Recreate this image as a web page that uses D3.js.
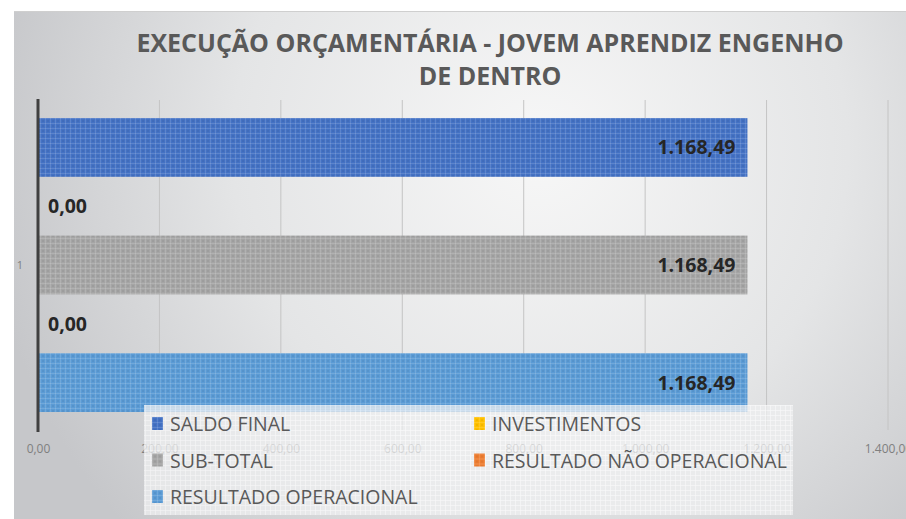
<!DOCTYPE html>
<html>
<head>
<meta charset="utf-8">
<script src="https://cdn.jsdelivr.net/npm/d3@7"></script>
<style>
  body { margin: 0; background: #fff; }
  svg { display: block; font-family: "Open Sans", sans-serif; }
</style>
</head>
<body>
<div class="visHolder"></div>
<script>
// chart data
var categories = ["1"]
var seriesNames = ["SALDO FINAL", "INVESTIMENTOS", "SUB-TOTAL", "RESULTADO NÃO OPERACIONAL", "RESULTADO OPERACIONAL"]
var seriesValues = [1168.49, 0, 1168.49, 0, 1168.49]
var seriesColors = ["#4472c4", "#ffc000", "#a5a5a5", "#ed7d31", "#5b9bd5"]
var xTicks = [0, 200, 400, 600, 800, 1000, 1200, 1400]
var titleLines = ["EXECUÇÃO ORÇAMENTÁRIA - JOVEM APRENDIZ ENGENHO", "DE DENTRO"]

var W = 906, H = 519

var svg = d3.select(".visHolder")
    .append("svg")
    .attr("width", W)
    .attr("height", H)

var defs = svg.append("defs")

// background gradient of the chart area
var bg = defs.append("radialGradient")
    .attr("id", "bg")
    .attr("gradientUnits", "userSpaceOnUse")
    .attr("cx", 540).attr("cy", 150).attr("r", 560)
bg.append("stop").attr("offset", "0%").attr("stop-color", "#f7f7f7")
bg.append("stop").attr("offset", "55%").attr("stop-color", "#e4e5e6")
bg.append("stop").attr("offset", "100%").attr("stop-color", "#c6c7ca")

// small checker texture for bars
seriesColors.forEach((c, i) => {
    var p = defs.append("pattern")
        .attr("id", "pat" + i)
        .attr("patternUnits", "userSpaceOnUse")
        .attr("width", 5).attr("height", 5)
    p.append("rect").attr("width", 5).attr("height", 5).attr("fill", c)
    p.append("rect").attr("width", 5).attr("height", 1).attr("fill", "#fff").attr("opacity", 0.13)
    p.append("rect").attr("width", 1).attr("height", 5).attr("fill", "#fff").attr("opacity", 0.13)
    p.append("rect").attr("x", 2).attr("y", 2).attr("width", 2).attr("height", 2).attr("fill", "#000").attr("opacity", 0.05)
})

var lp = defs.append("pattern")
    .attr("id", "legpat")
    .attr("patternUnits", "userSpaceOnUse")
    .attr("width", 5).attr("height", 5)
lp.append("rect").attr("width", 5).attr("height", 5).attr("fill", "#eeeff0")
lp.append("rect").attr("width", 5).attr("height", 1).attr("fill", "#fff").attr("opacity", 0.7)
lp.append("rect").attr("width", 1).attr("height", 5).attr("fill", "#fff").attr("opacity", 0.7)

// chart area
svg.append("rect")
    .attr("x", 14).attr("y", 11)
    .attr("width", W).attr("height", H)
    .attr("fill", "url(#bg)")
svg.append("line")
    .attr("x1", 14).attr("x2", W)
    .attr("y1", 11.5).attr("y2", 11.5)
    .attr("stroke", "#cfcfcf")

var fmt = (v) => d3.format(",.2f")(v).replace(/,/g, "#").replace(".", ",").replace(/#/g, ".")

// title
svg.selectAll(".title")
    .data(titleLines)
    .enter()
    .append("text")
    .attr("class", "title")
    .attr("x", 490)
    .attr("y", (d, i) => 52 + i * 33)
    .attr("text-anchor", "middle")
    .style("font-size", "25px")
    .style("font-weight", "bold")
    .style("fill", "#595959")
    .text((d) => d)

// scales
var x = d3.scaleLinear().domain([0, 1400]).range([38, 888])
var y0 = d3.scaleBand().domain(categories).range([100, 430]).paddingOuter(0.0612)
var y1 = d3.scaleBand().domain(seriesNames).range([0, y0.bandwidth()])

// gridlines
svg.append("g")
    .selectAll("line")
    .data(xTicks.slice(1))
    .enter()
    .append("line")
    .attr("x1", (d) => x(d)).attr("x2", (d) => x(d))
    .attr("y1", 100).attr("y2", 430)
    .attr("stroke", "#c4c4c4")
    .attr("stroke-width", 1)

// x axis labels
var xAxis = svg.append("g")
    .attr("transform", "translate(0,430)")
    .call(d3.axisBottom(x)
        .tickValues(xTicks)
        .tickSize(0)
        .tickPadding(14)
        .tickFormat(fmt))
xAxis.select(".domain").remove()
xAxis.selectAll("text")
    .style("font-size", "12px")
    .style("font-family", "Open Sans, sans-serif")
    .style("fill", "#7f7f7f")

// bars
var group = svg.selectAll(".cat")
    .data(categories)
    .enter()
    .append("g")
    .attr("class", "cat")
    .attr("transform", (d) => `translate(0,${y0(d)})`)

var rows = seriesNames.map((s, i) => ({ name: s, value: seriesValues[i], idx: i }))

group.selectAll("rect")
    .data(rows)
    .enter()
    .append("rect")
    .attr("x", x(0))
    .attr("y", (d) => y1(d.name))
    .attr("width", (d) => x(d.value) - x(0))
    .attr("height", y1.bandwidth())
    .attr("fill", (d) => "url(#pat" + d.idx + ")")

group.selectAll(".lbl")
    .data(rows)
    .enter()
    .append("text")
    .attr("class", "lbl")
    .attr("x", (d) => d.value > 0 ? x(d.value) - 12 : x(0) + 10)
    .attr("y", (d) => y1(d.name) + y1.bandwidth() / 2 + 7)
    .attr("text-anchor", (d) => d.value > 0 ? "end" : "start")
    .style("font-size", "19.5px")
    .style("font-weight", "bold")
    .style("fill", "#262626")
    .text((d) => fmt(d.value))

// category axis
svg.append("line")
    .attr("x1", x(0)).attr("x2", x(0))
    .attr("y1", 99).attr("y2", 432)
    .attr("stroke", "#404040")
    .attr("stroke-width", 3)

svg.selectAll(".catlbl")
    .data(categories)
    .enter()
    .append("text")
    .attr("class", "catlbl")
    .attr("x", 20)
    .attr("y", (d) => y0(d) + y0.bandwidth() / 2 + 4)
    .attr("text-anchor", "middle")
    .style("font-size", "11px")
    .style("fill", "#7f7f7f")
    .text((d) => d)

// legend
var legend = svg.append("g").attr("id", "legend")
legend.append("rect")
    .attr("x", 144).attr("y", 405)
    .attr("width", 649).attr("height", 110)
    .attr("fill", "url(#legpat)")
    .attr("opacity", 0.75)

var legendItem = legend.selectAll(".legend-label")
    .data(rows)
    .enter()
    .append("g")
    .attr("class", "legend-label")
    .attr("transform", (d, i) => `translate(${152 + (i % 2) * 322}, ${417 + Math.floor(i / 2) * 36.5})`)

legendItem.append("rect")
    .attr("width", 11)
    .attr("height", 13)
    .attr("fill", (d) => "url(#pat" + d.idx + ")")

legendItem.append("text")
    .attr("x", 18)
    .attr("y", 14)
    .style("font-size", "19.5px")
    .style("fill", "#595959")
    .text((d) => d.name)
</script>
</body>
</html>
